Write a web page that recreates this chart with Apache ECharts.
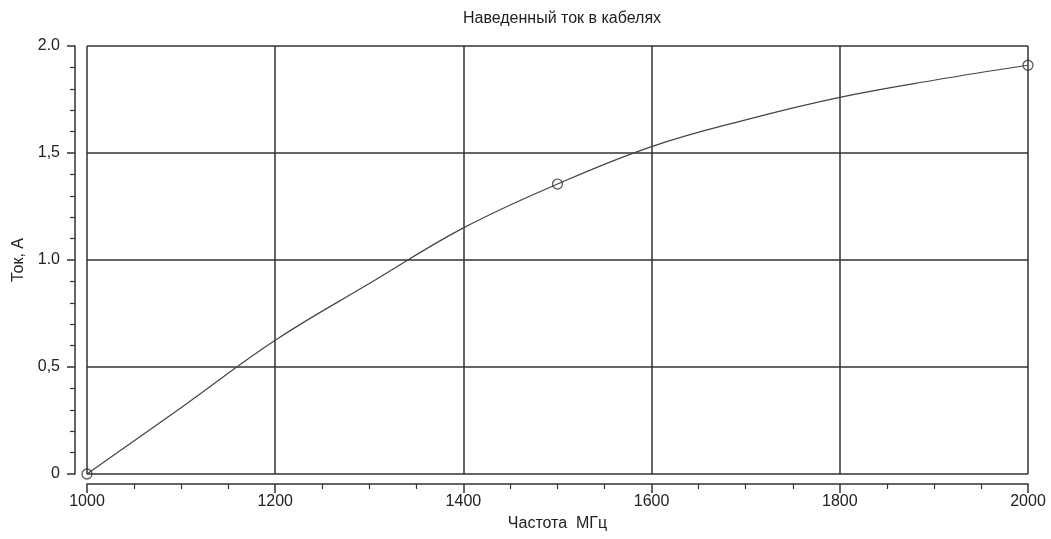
<!DOCTYPE html>
<html>
<head>
<meta charset="utf-8">
<script src="https://cdn.jsdelivr.net/npm/echarts@6/dist/echarts.min.js"></script>
<style>
html,body{margin:0;padding:0;background:#fff;}
#c{width:1051px;height:539px;}
</style>
</head>
<body>
<div id="c"></div>
<script>
var titleText = 'Наведенный ток в кабелях';
var xName = 'Частота  МГц';
var yName = 'Ток, А';
var freq = [1000, 1100, 1200, 1300, 1400, 1500, 1600, 1700, 1800, 1900, 2000];
var current = [0, 0.31, 0.625, 0.89, 1.15, 1.355, 1.53, 1.655, 1.76, 1.84, 1.91];
var markerFreq = [1000, 1500, 2000];
var markerCurrent = [0, 1.355, 1.91];
var yTickValues = [0, 0.5, 1.0, 1.5, 2.0];
var yTickLabels = ['0', '0,5', '1.0', '1,5', '2.0'];

var lineData = freq.map(function (f, i) { return [f, current[i]]; });
var markData = markerFreq.map(function (f, i) { return [f, markerCurrent[i]]; });

var chart = echarts.init(document.getElementById('c'));
var fontFam = '"Liberation Sans", Arial, sans-serif';
chart.setOption({
  backgroundColor: '#ffffff',
  animation: false,
  title: {
    text: titleText, left: 557, textAlign: 'center', top: 6,
    textStyle: { fontFamily: fontFam, fontSize: 16, fontWeight: 'normal', color: '#222' }
  },
  grid: { left: 87, right: 23, top: 46, bottom: 65 },
  xAxis: {
    type: 'value', min: 1000, max: 2000, interval: 200, offset: 10,
    name: xName, nameLocation: 'middle', nameGap: 32,
    nameTextStyle: { fontFamily: fontFam, fontSize: 16, color: '#222' },
    axisLine: { show: true, onZero: false, lineStyle: { color: '#333', width: 1.5 } },
    axisTick: { show: true, length: 9, lineStyle: { color: '#333', width: 1.5 } },
    minorTick: { show: true, splitNumber: 4, length: 5, lineStyle: { color: '#333', width: 1.2 } },
    axisLabel: {
      fontFamily: fontFam, fontSize: 16, color: '#222', margin: 10,
      formatter: function (v) { return String(v); }
    },
    splitLine: { show: true, lineStyle: { color: '#333', width: 1.5 } }
  },
  yAxis: {
    type: 'value', min: 0, max: 2, interval: 0.5, offset: 12,
    name: yName, nameLocation: 'middle', nameGap: 48, nameRotate: 90,
    nameTextStyle: { fontFamily: fontFam, fontSize: 16, color: '#222' },
    axisLine: { show: true, onZero: false, lineStyle: { color: '#333', width: 1.5 } },
    axisTick: { show: true, length: 8, lineStyle: { color: '#333', width: 1.5 } },
    minorTick: { show: true, splitNumber: 5, length: 5, lineStyle: { color: '#333', width: 1.2 } },
    axisLabel: {
      fontFamily: fontFam, fontSize: 16, color: '#222', margin: 15,
      formatter: function (v) {
        for (var i = 0; i < yTickValues.length; i++) {
          if (Math.abs(yTickValues[i] - v) < 1e-9) return yTickLabels[i];
        }
        return '';
      }
    },
    splitLine: { show: true, lineStyle: { color: '#333', width: 1.5 } }
  },
  series: [
    {
      type: 'line', data: lineData, smooth: 0.4, showSymbol: false,
      lineStyle: { color: '#444', width: 1.2 }, z: 3
    },
    {
      type: 'scatter', data: markData, symbol: 'circle', symbolSize: 10,
      itemStyle: { color: 'rgba(255,255,255,0)', borderColor: '#333', borderWidth: 1.3 }, z: 4
    }
  ]
});
</script>
</body>
</html>
